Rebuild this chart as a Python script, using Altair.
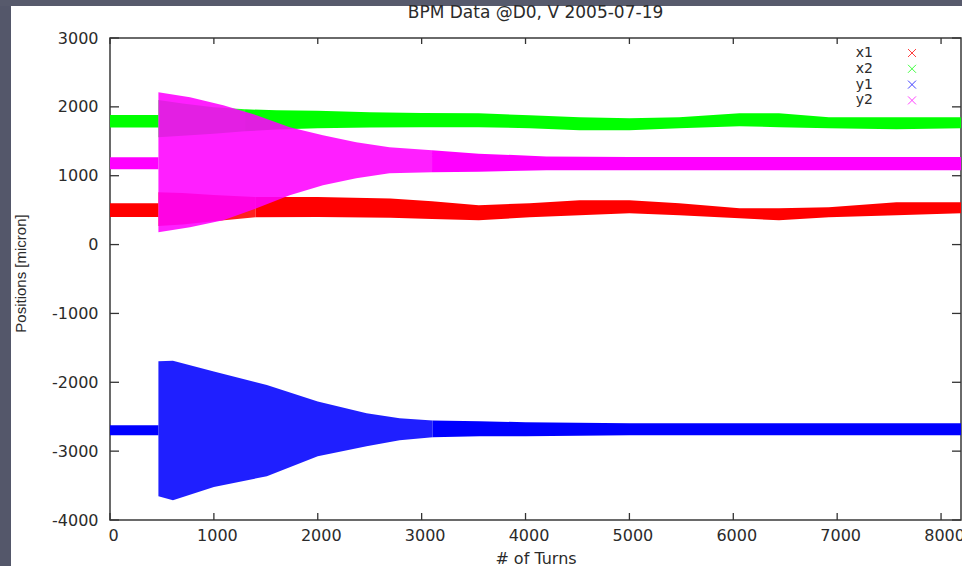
import altair as alt
import pandas as pd

# ---- series, colours, axis ticks -------------------------------------------
SERIES = ["x1", "x2", "y1", "y2"]
COLORS = ["#ff0000", "#00ff00", "#0000ff", "#ff00ff"]
X_TICKS = [0, 1000, 2000, 3000, 4000, 5000, 6000, 7000, 8000]
Y_TICKS = [-4000, -3000, -2000, -1000, 0, 1000, 2000, 3000]
TURN_MAX = 8192
TITLE = "BPM Data @D0, V 2005-07-19"

# ---- BPM readings: envelope (min / max position, micron) per turn ----------
# the kick lands at turn 466, so that turn appears twice: before and after it
x1_turn = [0, 466, 466, 700, 1000, 1400, 2000, 2700, 3100, 3550, 4040, 4520, 5000, 5480, 6060, 6440, 6920, 7570, 8192]
x1_lo = [400, 400, 270, 290, 340, 395, 400, 390, 370, 353, 396, 425, 454, 425, 382, 353, 396, 425, 454]
x1_hi = [600, 600, 760, 750, 720, 690, 690, 670, 630, 571, 600, 644, 644, 600, 527, 527, 542, 614, 614]
x1_settle = 1400

x2_turn = [0, 466, 466, 700, 1000, 1300, 1600, 2000, 2500, 3000, 3550, 4040, 4520, 5000, 5480, 6060, 6440, 6920, 7570, 8192]
x2_lo = [1700, 1700, 1560, 1580, 1610, 1645, 1670, 1690, 1700, 1705, 1703, 1690, 1662, 1660, 1689, 1718, 1705, 1690, 1675, 1690]
x2_hi = [1880, 1880, 2100, 2050, 1995, 1965, 1950, 1945, 1920, 1910, 1907, 1878, 1850, 1835, 1850, 1907, 1907, 1850, 1850, 1850]
x2_settle = 1300

y1_turn = [0, 466, 466, 606, 1000, 1510, 2000, 2470, 2788, 3106, 3557, 4000, 5000, 6000, 7000, 8192]
y1_lo = [-2769, -2769, -3655, -3713, -3520, -3365, -3074, -2929, -2842, -2800, -2784, -2784, -2769, -2769, -2769, -2769]
y1_hi = [-2624, -2624, -1694, -1686, -1844, -2039, -2280, -2450, -2523, -2556, -2566, -2580, -2595, -2595, -2595, -2595]
y1_settle = 3106

y2_turn = [0, 466, 466, 770, 1090, 1410, 1730, 2050, 2370, 2690, 3100, 3550, 4200, 5000, 6000, 7000, 8192]
y2_lo = [1093, 1093, 178, 251, 353, 527, 716, 861, 963, 1035, 1050, 1058, 1079, 1079, 1079, 1079, 1079]
y2_hi = [1268, 1268, 2211, 2139, 2023, 1878, 1703, 1587, 1486, 1413, 1370, 1320, 1280, 1270, 1270, 1270, 1270]
y2_settle = 3100

READINGS = {
    "x1": (x1_turn, x1_lo, x1_hi, x1_settle),
    "x2": (x2_turn, x2_lo, x2_hi, x2_settle),
    "y1": (y1_turn, y1_lo, y1_hi, y1_settle),
    "y2": (y2_turn, y2_lo, y2_hi, y2_settle),
}

W, H = 851, 482
FONT = "DejaVu Sans"
INK = "#2b2b2b"
SEG_OPACITY = {"pre": 1.0, "kick": 0.88, "post": 1.0}


def band_table(name):
    turns, lo, hi, settle = READINGS[name]
    rows = []
    for i, (t, a, b) in enumerate(zip(turns, lo, hi)):
        if i <= 1:
            segs = ["pre"]
        elif t < settle:
            segs = ["kick"]
        elif t == settle:
            segs = ["kick", "post"]
        else:
            segs = ["post"]
        for s in segs:
            rows.append({"series": name, "turn": t, "lo": a, "hi": b,
                         "seg": s, "op": SEG_OPACITY[s]})
    return pd.DataFrame(rows)


x_scale = alt.Scale(domain=[0, TURN_MAX], nice=False, zero=False)
y_scale = alt.Scale(domain=[-4000, 3000], nice=False, zero=False)

# plain integers with an ASCII hyphen for negatives
plain = "'' + datum.value"

x_axis = alt.Axis(values=X_TICKS, ticks=False, domain=False, grid=False,
                  labelExpr=plain, labelFont=FONT, labelFontSize=16, labelColor=INK,
                  labelPadding=7, labelOffset=3, labelFlush=False, labelOverlap=False,
                  title="# of Turns", titleFont=FONT, titleFontSize=16,
                  titleFontWeight="normal", titleColor=INK, titlePadding=7)
y_axis = alt.Axis(values=Y_TICKS, ticks=False, domain=False, grid=False,
                  labelExpr=plain, labelFont=FONT, labelFontSize=16, labelColor=INK,
                  labelPadding=12, labelFlush=False, labelOverlap=False,
                  title="Positions [micron]", titleFont="Liberation Sans",
                  titleFontSize=15, titleFontWeight="normal", titleColor=INK,
                  titleX=-90, titleY=H / 2 - 6, titleAngle=270,
                  titleAlign="center", titleBaseline="middle")

x_enc = alt.X("turn:Q", scale=x_scale, axis=x_axis)
y_enc = alt.Y("lo:Q", scale=y_scale, axis=y_axis)

# slide frame around the figure
frame_src = pd.DataFrame({"k": [0]})
left_band = alt.Chart(frame_src).mark_rect(color="#54576a").encode(
    x=alt.value(-110), x2=alt.value(-99), y=alt.value(-38), y2=alt.value(H + 46))
top_band = alt.Chart(frame_src).mark_rect(color="#575a6c").encode(
    x=alt.value(-110), x2=alt.value(W + 1), y=alt.value(-38), y2=alt.value(-32))

# one band per monitor, drawn x1, x2, y1, y2 so y2 ends on top
bands = []
for name, col in zip(SERIES, COLORS):
    bands.append(
        alt.Chart(band_table(name)).mark_area(color=col, interpolate="linear").encode(
            x=x_enc, y=y_enc, y2="hi:Q", detail="seg:N",
            opacity=alt.Opacity("op:Q", scale=None),
        )
    )

# inward tick marks on all four sides (same fields/axes as the bands)
xt = pd.DataFrame({"turn": X_TICKS})
yt = pd.DataFrame({"lo": Y_TICKS})
tick_style = dict(color="#333333", strokeWidth=1.3)
ticks = [
    alt.Chart(xt).mark_rule(**tick_style).encode(x=x_enc, y=alt.value(H), y2=alt.value(H - 7)),
    alt.Chart(xt).mark_rule(**tick_style).encode(x=x_enc, y=alt.value(0), y2=alt.value(6)),
    alt.Chart(yt).mark_rule(**tick_style).encode(y=y_enc, x=alt.value(0), x2=alt.value(9)),
    alt.Chart(yt).mark_rule(**tick_style).encode(y=y_enc, x=alt.value(W), x2=alt.value(W - 9)),
]

# heading above the plot frame
heading = alt.Chart(frame_src).mark_text(
    text=TITLE, font=FONT, fontSize=17, color=INK, align="center", baseline="alphabetic"
).encode(x=alt.value(W / 2), y=alt.value(-20))

# key in the upper right corner
key = []
for i, (name, col) in enumerate(zip(SERIES, COLORS)):
    row_y = 15 + 15.8 * i
    key.append(alt.Chart(frame_src).mark_text(
        text=name, font=FONT, fontSize=14, color=INK, align="right", baseline="middle"
    ).encode(x=alt.value(763), y=alt.value(row_y)))
    key.append(alt.Chart(frame_src).mark_point(
        shape="M-1,-1L1,1M-1,1L1,-1", filled=False, strokeWidth=1, color=col,
        opacity=0.75, size=64
    ).encode(x=alt.value(802), y=alt.value(row_y)))

chart = alt.layer(left_band, top_band, *bands, *ticks, heading, *key).properties(
    width=W, height=H,
    autosize=alt.AutoSizeParams(type="none"),
    padding={"left": 110, "top": 38, "right": 1, "bottom": 46},
).configure(background="white").configure_view(stroke="#3a3a3a", strokeWidth=1.5)

chart.save("out.html", embed_options={"renderer": "svg", "actions": False})
